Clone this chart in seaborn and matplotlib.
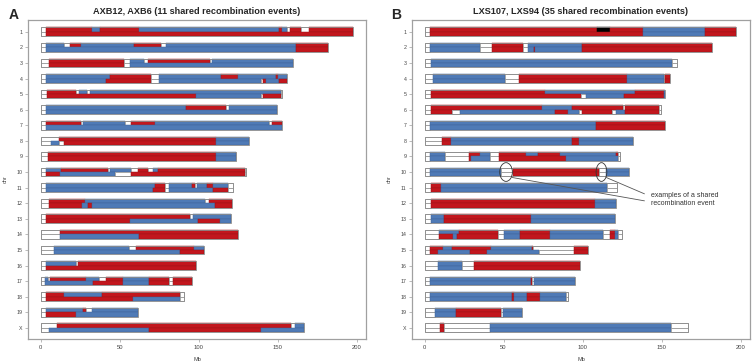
import matplotlib
matplotlib.use("Agg")
import matplotlib.pyplot as plt
import seaborn as sns
import numpy as np
from matplotlib.patches import Ellipse

# chromosome labels
CHROMS = [str(i) for i in range(1, 20)] + ["X"]

# segment code: colour letter + end position (Mb); W = untyped, R = red allele, B = blue allele, K = black mark
A_TOP = [
    "W3.4 R32.4 B37.7 R62.5 B151 R153 B156 W158 R165 W170 R197.5",
    "W3.4 B14.5 W18.7 R25.4 B59.3 R76.3 W79.3 B161.7 R182",
    "W5 R52.8 W56.6 B65.4 W67.7 R107 W108.7 B160",
    "W3.4 B44 R69.6 W74.7 B114 R125 B149 R150 B155.8",
    "W4 R22.5 W24.2 B29.2 W31.3 B152.3 W152.9",
    "W3.4 B91.9 R117.6 W119.2 B149.7",
    "W3.4 R25.4 W27.1 B53.6 W57.2 R72.3 B144.5 W146.6 R152.9",
    "W11.4 R110.8 B131.9",
    "W4.6 R111.3 B123.4 W123.9",
    "W3.4 B13 R42.9 W44 B57.2 W61.4 R68.1 W70.9 B74.4 R129.5 W130.2",
    "W3.4 B72.6 R78.7 W81.4 B95.5 R98 W99 B105 R109.4 B118.6 W121.8",
    "W5.5 R28.2 B104.3 W106.4 R121.3",
    "W3.4 R94.8 W96.5 B120.3",
    "W12 R125.1",
    "W8.6 B55.7 W60.4 R97 B103.7",
    "W3.6 B22.5 W23.6 R98.6",
    "W3 B4.6 W5.7 R28.4 B37.2 W41.4 R51.9 B68.3 R81.4 W83.9 R95.5",
    "W3.6 R14.9 B38.9 R88.1 W90.9",
    "W3.6 B27.1 R28.8 W32.4 B61.4",
    "W10.3 R158.6 W160.7 B167",
]
A_BOT = [
    "W3.4 R197.5",
    "W3.4 B161.7 R182",
    "W5 R52.8 W56.6 B160",
    "W3.4 B41.4 R69.6 W74.7 B139.6 W140.7 R142.8 B151 R155.8",
    "W4 R98.2 B139.6 W140.7 R152.3 W152.9",
    "W3.4 B149.7",
    "W3.4 B152.9",
    "W6.5 B11.4 W14.5 R110.8 B131.9",
    "W4.6 R111.3 B123.4 W123.9",
    "W3.4 R12.4 B47.1 W57.2 R129.5 W130.2",
    "W3.4 B71.3 R78.7 W81.4 B109.4 R118.6 W121.8",
    "W5.5 R26.1 B29.7 R32.4 B110.6 R121.3",
    "W3.4 R56.6 B99.7 R113.4 B120.3",
    "W12 B62 R125.1",
    "W8.6 B88.1 R103.7",
    "W3.6 R98.6",
    "W3 B33.4 R51.9 B68.3 R81.4 W83.9 R95.5",
    "W3.6 R58.3 B88.1 W90.9",
    "W3.6 R22.5 B61.4",
    "W5.5 B68.3 R139.6 B167",
]
B_TOP = [
    "W3.4 R109.3 K117.7 R138.1 B177.5 R197.3",
    "W3.4 B35.3 W42.8 R62.5 W65.3 B99.7 R181.7",
    "W3.8 B156.6 W159.5",
    "W5.5 B51.2 W59.6 R128.2 B151.3 W152.4 R155.5",
    "W4.2 R76.2 B133 R151.3 B152.4",
    "W3.8 R74.5 B93.2 R125.5 W127.2 R148.6 W149.6",
    "W3.4 B108.3 R152.4",
    "W11.3 R16.6 B93.2 R97.8 B131.8",
    "W3.4 B13.2 W28.3 R34.8 B41.6 W47.4 R64 B71.8 R85.6 B121.3 R122.6 W123.8",
    "W3.4 B48.3 W55.8 R110.2 W115 B129.7",
    "W3.8 R10.5 B115.6 W121.7",
    "W3.8 R107.7 B121.3",
    "W3.8 B12.2 R67.4 B120.3",
    "W9 B22 R46.4 W50 B60.4 R79.7 B112.9 W117.5 R120.5 B122.2 W125.1",
    "W3.4 R11.8 B17.4 R42.2 B67.8 R68.8 W94.6 R103.5",
    "W8.4 B23.7 W31.5 R98.2",
    "W3.4 B67.2 R68 W69.3 B95.3",
    "W3.4 B55.4 R56.7 B64.6 R73 B89.4 W90.9",
    "W6.9 B19.9 R48.5 W49.5 B61.5",
    "W9.7 R12.2 W41.6 B156.1 W166.8",
]
B_BOT = [
    "W3.4 R138.1 B177.5 R197.3",
    "W3.4 B35.3 W42.8 R62.5 W65.3 B69.3 R70.1 B99.7 R181.7",
    "W3.8 B156.6 W159.5",
    "W5.5 B51.2 W59.6 R128.2 B151.3 W152.4 R155.5",
    "W4.2 R99 W102.2 B126.1 R151.3 B152.4",
    "W3.8 R17.4 W22.7 B82.3 R90.7 B97.8 W99.5 R118.8 W121.3 B127.2 R148.6 W149.6",
    "W3.4 B108.3 R152.4",
    "W11.3 R16.6 B93.2 R97.8 B131.8",
    "W3.4 B13.2 W28.3 R29.6 B41.6 W47.4 R89.4 B122.6 W123.8",
    "W3.4 B48.3 W55.8 R110.2 W115 B129.7",
    "W3.8 R10.5 B115.6 W121.7",
    "W3.8 R107.7 B121.3",
    "W3.8 B12.2 R67.4 B120.3",
    "W9 R17.8 B20.5 R46.4 W50 B60.4 R79.7 B112.9 W117.5 R120.5 B122.2 W125.1",
    "W3.4 R8.4 B29 R39.5 B72.6 W94.6 R103.5",
    "W8.4 B23.7 W31.5 R98.2",
    "W3.4 B67.2 R68 W69.3 B95.3",
    "W3.4 B55.4 R56.7 B64.6 R73 B89.4 W90.9",
    "W6.9 B19.9 R48.5 W49.5 B61.5",
    "W9.7 R12.2 W41.6 B156.1 W166.8",
]
TITLES = ["AXB12, AXB6 (11 shared recombination events)",
          "LXS107, LXS94 (35 shared recombination events)"]
X_TICKS = [0, 50, 100, 150, 200]

COLORS = {"R": "#C2161D", "B": "#4F7AB6", "W": "white", "K": "black"}
EDGES = {"R": "#9E1218", "B": "#3F659C", "W": "#8c8c8c", "K": "black"}

sns.set_style("white")
plt.rcParams['font.family'] = ['Liberation Sans', 'DejaVu Sans']


def parse(code):
    start = 0.0
    out = []
    for tok in code.split():
        end = float(tok[1:])
        out.append((start, end - start, tok[0]))
        start = end
    return out


def draw_panel(ax, top, bot, title):
    half = 0.28
    for i in range(len(CHROMS)):
        y = i + 1
        for rows, yy in ((top, y - half / 2), (bot, y + half / 2)):
            for left, width, c in parse(rows[i]):
                ax.barh(yy, width, left=left, height=half, color=COLORS[c],
                        edgecolor=EDGES[c], linewidth=0.35 if c != "W" else 0.5)
        length = parse(top[i])[-1]
        ax.barh(y, length[0] + length[1], left=0, height=2 * half, fill=False,
                edgecolor="#8c8c8c", linewidth=0.6)
    ax.set_xlim(-8, 206)
    ax.set_ylim(20.72, 0.24)
    ax.set_yticks(range(1, len(CHROMS) + 1))
    ax.set_yticklabels(CHROMS, fontsize=3.8, color="#444444")
    ax.set_xticks(X_TICKS)
    ax.set_xticklabels([str(t) for t in X_TICKS], fontsize=4.2, color="#444444")
    ax.tick_params(axis="both", length=2, width=0.4, color="#888888", pad=2, left=True, bottom=True)
    ax.set_xlabel("Mb", fontsize=4, color="#444444", labelpad=5)
    ax.set_ylabel("chr", fontsize=4, color="#444444", labelpad=6)
    ax.set_title(title, fontsize=6.6, fontweight="bold", pad=4.5)
    for sp in ax.spines.values():
        sp.set_color("#a0a0a0")
        sp.set_linewidth(0.9)


fig = plt.figure(figsize=(7.53, 3.63), dpi=100)
axA = fig.add_axes([0.0372, 0.066, 0.449, 0.879])
axB = fig.add_axes([0.547, 0.066, 0.449, 0.879])

draw_panel(axA, A_TOP, A_BOT, TITLES[0])
draw_panel(axB, B_TOP, B_BOT, TITLES[1])

fig.text(0.011, 0.958, "A", fontsize=10, fontweight="bold", va="center")
fig.text(0.519, 0.958, "B", fontsize=10, fontweight="bold", va="center")

# shared recombination event callouts on chr10 of panel B
for cx, w in ((51.6, 8.0), (112.0, 6.8)):
    axB.add_patch(Ellipse((cx, 10.0), w, 1.2, fill=False, edgecolor="#333333", linewidth=0.6))
axB.plot([55.4, 139.2], [10.35, 11.85], color="#555555", linewidth=0.6)
axB.plot([115.0, 139.2], [10.35, 11.4], color="#555555", linewidth=0.6)
axB.text(143.5, 11.75, "examples of a shared\nrecombination event", fontsize=5,
         color="#333333", va="center", ha="left", linespacing=1.2)

fig.savefig("out.png", dpi=100)
